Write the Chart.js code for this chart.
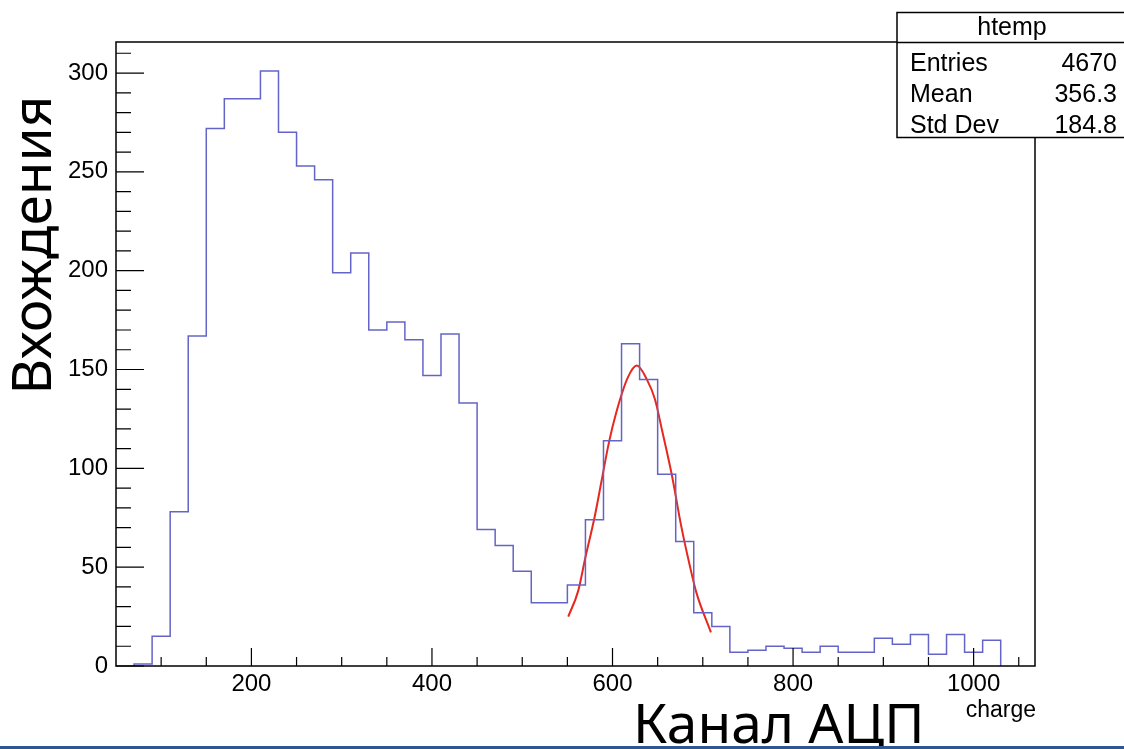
<!DOCTYPE html>
<html>
<head>
<meta charset="utf-8">
<script src="https://cdn.jsdelivr.net/npm/chart.js@4/dist/chart.umd.min.js"></script>
<style>
  body { margin: 0; background: #fff; }
  #wrap { position: relative; width: 1124px; height: 749px; }
  #band { position: absolute; left: 0; right: 0; bottom: 0; height: 3px; background: #2f5597; }
</style>
</head>
<body>
<div id="wrap">
  <canvas id="histChart" width="1124" height="749"></canvas>
  <div id="band"></div>
</div>
<script>
// histogram "htemp": 20-wide bins starting at 70
const binStart = 70;
const binWidth = 20;
const counts = [1, 15, 78, 167, 272, 287, 287, 301, 270, 253, 246, 199, 209, 170, 174, 165,
  147, 168, 133, 69, 61, 48, 32, 32, 41, 74, 114, 163, 145, 97, 63, 27,
  20, 7, 8, 10, 9, 7, 10, 7, 7, 14, 11, 16, 6, 16, 7, 13];

// gaussian fit curve
const fitX = [551, 562, 570, 580, 588, 596, 604, 617, 627, 638, 647, 655, 666, 676, 685, 693, 709];
const fitY = [25, 38, 55, 75, 94, 113, 128, 146, 152, 145, 135, 119, 96, 71, 52, 37, 17];

const xTicks = [200, 400, 600, 800, 1000];
const yTicks = [0, 50, 100, 150, 200, 250, 300];

const statsLabels = ["Entries", "Mean", "Std Dev"];
const statsValues = ["4670", "356.3", "184.8"];

// each point sits on a bin's left edge; the step carries its count to the next edge
const histPoints = [{ x: binStart, y: 0 }];
counts.forEach((c, i) => {
  histPoints.push({ x: binStart + i * binWidth, y: c });
});
histPoints.push({ x: binStart + counts.length * binWidth, y: 0 });
const fitPoints = fitX.map((x, i) => ({ x: x, y: fitY[i] }));

const tickFont = { family: "Liberation Sans, Arial, sans-serif", size: 24 };

const rootFrame = {
  id: "rootFrame",
  afterDraw(chart) {
    const { ctx, chartArea: a, scales } = chart;
    const x = scales.x, y = scales.y;
    ctx.save();
    ctx.strokeStyle = "#000";
    ctx.lineWidth = 1.5;
    ctx.strokeRect(a.left, a.top, a.right - a.left, a.bottom - a.top);

    // inward ticks, ROOT style
    ctx.lineWidth = 1.2;
    ctx.beginPath();
    for (let v = 0; v <= y.max; v += 10) {
      const py = y.getPixelForValue(v);
      const len = v % 50 === 0 ? 28 : 15;
      ctx.moveTo(a.left, py);
      ctx.lineTo(a.left + len, py);
    }
    for (let v = 100; v <= x.max; v += 50) {
      const px = x.getPixelForValue(v);
      const len = v % 200 === 0 ? 18 : 9;
      ctx.moveTo(px, a.bottom);
      ctx.lineTo(px, a.bottom - len);
    }
    ctx.stroke();

    // stats box
    ctx.fillStyle = "#fff";
    ctx.fillRect(897, 12.5, 240, 125);
    ctx.lineWidth = 1.5;
    ctx.strokeRect(897, 12.5, 240, 125);
    ctx.beginPath();
    ctx.moveTo(897, 42.5);
    ctx.lineTo(1130, 42.5);
    ctx.stroke();
    ctx.fillStyle = "#000";
    ctx.font = "25px Liberation Sans, Arial, sans-serif";
    ctx.textBaseline = "alphabetic";
    ctx.textAlign = "center";
    ctx.fillText("htemp", 1012, 35);
    statsLabels.forEach((t, i) => {
      const by = 71 + i * 31;
      ctx.textAlign = "left";
      ctx.fillText(t, 910, by);
      ctx.textAlign = "right";
      ctx.fillText(statsValues[i], 1117, by);
    });

    // axis titles
    ctx.textAlign = "right";
    ctx.font = "23px Liberation Sans, Arial, sans-serif";
    ctx.fillText("charge", 1036, 717);

    ctx.font = "55px Noto Sans, Open Sans, sans-serif";
    ctx.textAlign = "left";
    ctx.fillText("Канал АЦП", 633, 743);

    ctx.translate(51, 245);
    ctx.rotate(-Math.PI / 2);
    ctx.textAlign = "center";
    ctx.fillText("Вхождения", 0, 0);
    ctx.restore();
  }
};

new Chart(document.getElementById("histChart"), {
  type: "line",
  data: {
    datasets: [
      {
        label: "htemp",
        data: histPoints,
        stepped: "before",
        borderColor: "rgb(100, 100, 200)",
        borderWidth: 1.5,
        pointRadius: 0,
        fill: false,
      },
      {
        label: "fit",
        data: fitPoints,
        borderColor: "rgb(230, 40, 30)",
        borderWidth: 2,
        pointRadius: 0,
        cubicInterpolationMode: "monotone",
        fill: false,
      },
    ],
  },
  options: {
    responsive: false,
    animation: false,
    events: [],
    layout: { padding: { left: 0, top: 42, right: 89, bottom: 0 } },
    plugins: {
      legend: { display: false },
      tooltip: { enabled: false },
    },
    scales: {
      x: {
        type: "linear",
        min: 50,
        max: 1068,
        grid: { display: false, drawTicks: false },
        border: { display: false },
        afterBuildTicks: (s) => { s.ticks = xTicks.map((v) => ({ value: v })); },
        afterFit: (s) => { s.height = 83; },
        ticks: {
          autoSkip: false,
          maxRotation: 0,
          padding: 4,
          color: "#000",
          font: tickFont,
          callback: (v) => String(v),
        },
      },
      y: {
        min: 0,
        max: 315.7,
        grid: { display: false, drawTicks: false },
        border: { display: false },
        afterBuildTicks: (s) => { s.ticks = yTicks.map((v) => ({ value: v })); },
        afterFit: (s) => { s.width = 116; },
        ticks: {
          padding: 8,
          color: "#000",
          font: tickFont,
          callback: (v) => String(v),
        },
      },
    },
  },
  plugins: [rootFrame],
});
</script>
</body>
</html>
